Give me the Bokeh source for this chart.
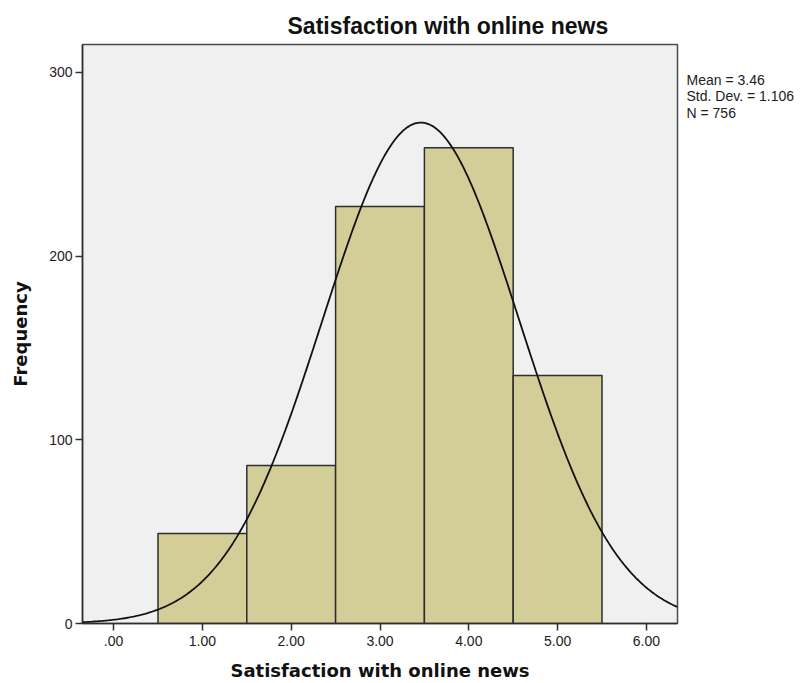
import numpy as np
from bokeh.plotting import figure
from bokeh.models import FixedTicker, Range1d, LinearAxis
from bokeh.embed import file_html
from bokeh.resources import INLINE

# ---- data ----
bin_centers = [1.0, 2.0, 3.0, 4.0, 5.0]
frequencies = [49, 86, 227, 259, 135]
bin_width = 1.0
mean_val = 3.46
std_val = 1.106
n_val = 756
x_ticks = [0, 1, 2, 3, 4, 5, 6]
x_tick_labels = [".00", "1.00", "2.00", "3.00", "4.00", "5.00", "6.00"]
y_ticks = [0, 100, 200, 300]
title_text = "Satisfaction with online news"
x_label = "Satisfaction with online news"
y_label = "Frequency"
stats_lines = ["Mean = 3.46", "Std. Dev. = 1.106", "N = 756"]
stats_positions = [296, 287, 278]

x_lo, x_hi = -0.35, 6.35
y_lo, y_hi = 0, 315.2

p = figure(width=810, height=683, output_backend="svg", toolbar_location=None,
           x_range=Range1d(x_lo, x_hi), y_range=Range1d(y_lo, y_hi),
           min_border_left=82, min_border_right=133, min_border_top=44,
           min_border_bottom=60)
p.background_fill_color = "#F0F0F0"
p.border_fill_color = "white"
p.outline_line_color = "#4a4a4a"
p.outline_line_width = 1.5
p.xgrid.visible = False
p.ygrid.visible = False

p.title.text = title_text
p.title.text_font = "Liberation Sans"
p.title.text_font_style = "bold"
p.title.text_font_size = "23px"
p.title.text_color = "#111111"
p.title.align = "left"
p.title.offset = 205
p.title.standoff = 11

lefts = [c - bin_width / 2 for c in bin_centers]
rights = [c + bin_width / 2 for c in bin_centers]
p.quad(left=lefts, right=rights, bottom=0, top=frequencies,
       fill_color="#D3CE97", line_color="#2e2e2e", line_width=1.5)

# fitted normal curve (from the shown mean, std. dev. and N)
xs = np.linspace(x_lo, x_hi, 400)
ys = n_val * bin_width / (std_val * np.sqrt(2 * np.pi)) * np.exp(-0.5 * ((xs - mean_val) / std_val) ** 2)
p.line(xs, ys, line_color="#111111", line_width=1.8)

for ax in (p.xaxis[0], p.yaxis[0]):
    ax.axis_line_color = "#2e2e2e"
    ax.axis_line_width = 1.5
    ax.major_tick_line_color = "#2e2e2e"
    ax.major_tick_line_width = 1.5
    ax.major_tick_in = 0
    ax.major_tick_out = 7
    ax.minor_tick_line_color = None
    ax.major_label_text_font = "Liberation Sans"
    ax.major_label_text_font_size = "14px"
    ax.major_label_text_color = "#222222"
    ax.axis_label_text_font = "DejaVu Sans"
    ax.axis_label_text_font_style = "bold"
    ax.axis_label_text_font_size = "18px"
    ax.axis_label_text_color = "#111111"

p.xaxis.ticker = FixedTicker(ticks=x_ticks)
p.xaxis.major_label_overrides = {t: l for t, l in zip(x_ticks, x_tick_labels)}
p.xaxis.major_label_standoff = 5
p.xaxis.axis_label = x_label
p.xaxis.axis_label_standoff = 11
p.yaxis.ticker = FixedTicker(ticks=y_ticks)
p.yaxis.major_label_standoff = 3
p.yaxis.axis_label = y_label
p.yaxis.axis_label_standoff = 15

# statistics box text on the right
stats_axis = LinearAxis(ticker=FixedTicker(ticks=stats_positions),
                        major_label_overrides={t: s for t, s in zip(stats_positions, stats_lines)})
stats_axis.axis_line_color = None
stats_axis.major_tick_line_color = None
stats_axis.minor_tick_line_color = None
stats_axis.major_tick_in = 0
stats_axis.major_tick_out = 0
stats_axis.major_label_standoff = 9
stats_axis.major_label_text_font = "Liberation Sans"
stats_axis.major_label_text_font_size = "14px"
stats_axis.major_label_text_color = "#222222"
p.add_layout(stats_axis, "right")

open("out.html", "w").write(file_html(p, INLINE))
